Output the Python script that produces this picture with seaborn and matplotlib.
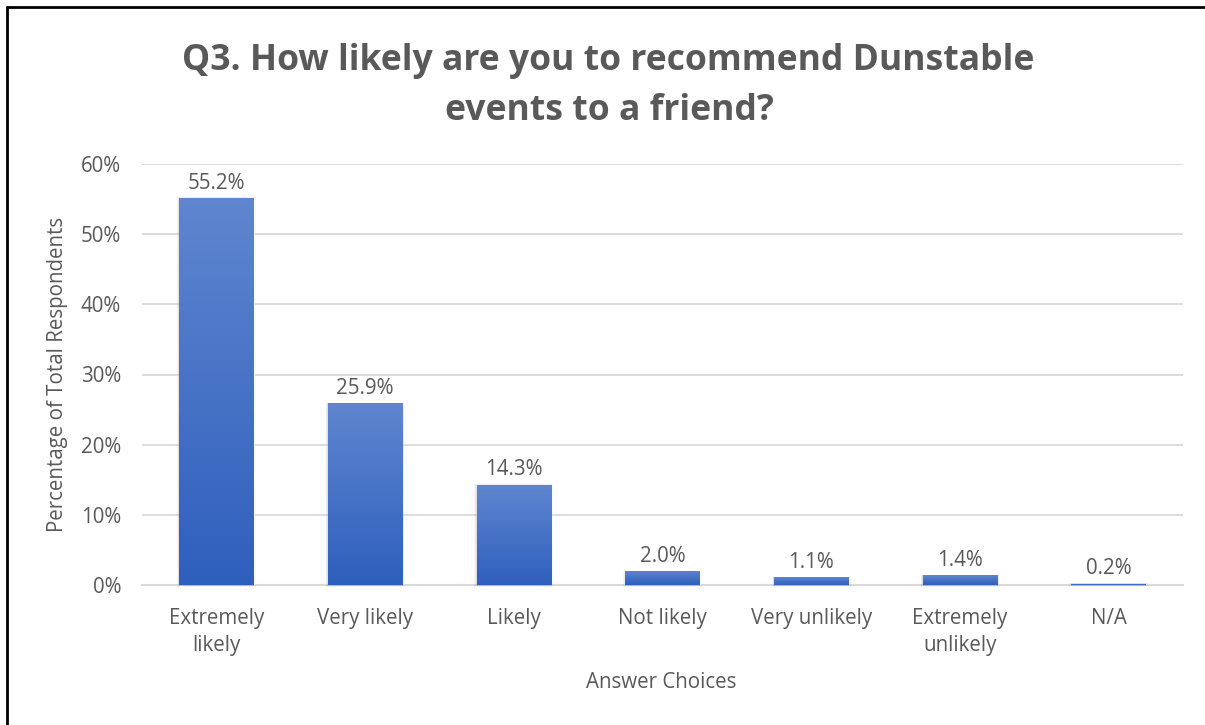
import matplotlib
matplotlib.use("Agg")
import matplotlib.pyplot as plt
from matplotlib.lines import Line2D
from matplotlib.patches import Rectangle
from matplotlib.colors import LinearSegmentedColormap
import numpy as np
import pandas as pd
import seaborn as sns

# Survey results
categories = ["Extremely\nlikely", "Very likely", "Likely", "Not likely",
              "Very unlikely", "Extremely\nunlikely", "N/A"]
percentages = [55.2, 25.9, 14.3, 2.0, 1.1, 1.4, 0.2]
ytick_values = [0, 10, 20, 30, 40, 50, 60]
ytick_labels = ["0%", "10%", "20%", "30%", "40%", "50%", "60%"]

title_lines = ["Q3. How likely are you to recommend Dunstable", "events to a friend?"]
x_title = "Answer Choices"
y_title = "Percentage of Total Respondents"

TEXT = "#595959"
GRID = "#d9d9d9"
FS = 14.8

sns.set_theme(style="white")
plt.rcParams["font.family"] = ["Open Sans", "DejaVu Sans"]

W, H = 1205, 725
fig = plt.figure(figsize=(W / 100, H / 100), dpi=100)
ax = fig.add_axes([142 / W, 1 - 585 / H, (1183 - 142) / W, (585 - 164) / H])

df = pd.DataFrame({"choice": categories, "pct": percentages})
sns.barplot(data=df, x="choice", y="pct", ax=ax, color="#4472c4",
            width=0.5, saturation=1, errorbar=None, zorder=3)

ax.set_ylim(0, 60)
ax.set_xlim(-0.5, len(categories) - 0.5)

# vertical blue gradient fill with a soft drop shadow for each bar
grad = LinearSegmentedColormap.from_list("bar", ["#2f5fbd", "#5f86cf"])
gimg = np.linspace(0, 1, 256).reshape(-1, 1)
for patch, val in zip(ax.patches, percentages):
    x0, w, h = patch.get_x(), patch.get_width(), patch.get_height()
    for k, a in [(0.03, 0.03), (0.02, 0.05), (0.01, 0.07)]:
        ax.add_patch(Rectangle((x0 - k * 0.5, -k * 8), w + k, h + k * 10,
                               facecolor="black", edgecolor="none", alpha=a,
                               zorder=2, clip_on=False))
    patch.set_facecolor("none")
    im = ax.imshow(gimg, cmap=grad, origin="lower", aspect="auto",
                   extent=(x0, x0 + w, 0, h), zorder=3, interpolation="bilinear")
    im.set_clip_path(patch)
    ax.annotate(f"{val:.1f}%", (x0 + w / 2, h), xytext=(0, 3),
                textcoords="offset points", ha="center", va="bottom",
                fontsize=FS, color=TEXT)

ax.set_ylim(0, 60)
ax.set_xlim(-0.5, len(categories) - 0.5)

ax.set_yticks(ytick_values)
ax.set_yticklabels(ytick_labels)
ax.yaxis.grid(True, color=GRID, lw=1.3, zorder=0)
ax.set_axisbelow(True)
for side in ["left", "right", "top"]:
    ax.spines[side].set_visible(False)
ax.spines["bottom"].set_color(GRID)
ax.spines["bottom"].set_linewidth(1.5)
ax.spines["bottom"].set_zorder(1)

ax.tick_params(axis="both", length=0, labelsize=FS, labelcolor=TEXT)
ax.tick_params(axis="x", pad=16.5)
ax.tick_params(axis="y", pad=15)
for lbl in ax.get_xticklabels():
    lbl.set_linespacing(1.4)

ax.set_xlabel(x_title, fontsize=FS, color=TEXT, va="center")
ax.xaxis.set_label_coords(0.4986, (585 - 683) / (585 - 164))
ax.set_ylabel(y_title, fontsize=FS, color=TEXT, va="center")
ax.yaxis.set_label_coords((57 - 142) / (1183 - 142), 0.5)

fig.text(0.505, 1 - 70 / H, title_lines[0], ha="center", va="baseline",
         fontsize=25.6, fontweight="bold", color=TEXT)
fig.text(0.506, 1 - 120 / H, title_lines[1], ha="center", va="baseline",
         fontsize=25.6, fontweight="bold", color=TEXT)

# frame along the left and top edges
fig.add_artist(Line2D([7 / W, 7 / W], [0, 1 - 7 / H], transform=fig.transFigure,
                      color="black", lw=2))
fig.add_artist(Line2D([7 / W, 1], [1 - 7 / H, 1 - 7 / H], transform=fig.transFigure,
                      color="black", lw=2))

fig.savefig("out.png", dpi=100, facecolor="white")
